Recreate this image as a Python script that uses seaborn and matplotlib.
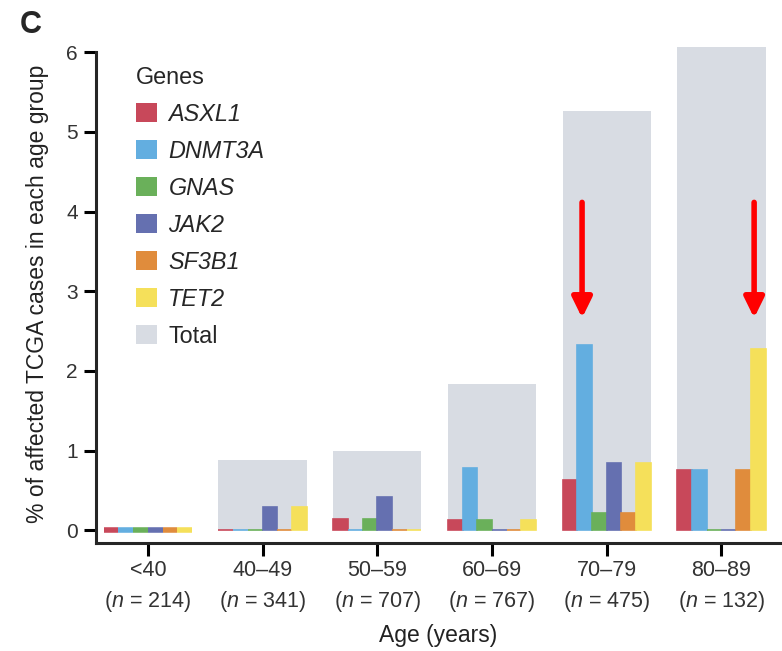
import pandas as pd
import matplotlib.pyplot as plt
import matplotlib.patheffects as pe
from matplotlib.patches import Patch
import seaborn as sns

# data (% of affected TCGA cases per age group)
ages = ["<40", "40–49", "50–59", "60–69", "70–79", "80–89"]
n_cases = [214, 341, 707, 767, 475, 132]
genes = ["ASXL1", "DNMT3A", "GNAS", "JAK2", "SF3B1", "TET2"]
asxl1 = [0, 0, 0.14, 0.13, 0.63, 0.76]
dnmt3a = [0, 0, 0, 0.78, 2.32, 0.76]
gnas = [0, 0, 0.14, 0.13, 0.21, 0]
jak2 = [0, 0.29, 0.42, 0, 0.84, 0]
sf3b1 = [0, 0, 0, 0, 0.21, 0.76]
tet2 = [0, 0.29, 0, 0.13, 0.84, 2.27]
total = [0, 0.88, 0.99, 1.83, 5.26, 6.06]

gene_colors = ["#c8485a", "#63aee0", "#6ab05a", "#6570b0", "#e08c3c", "#f5e05a"]
total_color = "#d8dce3"

df = pd.DataFrame({"age": ages, "ASXL1": asxl1, "DNMT3A": dnmt3a, "GNAS": gnas,
                   "JAK2": jak2, "SF3B1": sf3b1, "TET2": tet2})
long = df.melt(id_vars="age", var_name="gene", value_name="pct")
tot = pd.DataFrame({"age": ages, "pct": total})

sns.set_theme(style="ticks")
plt.rcParams["font.family"] = ["Liberation Sans", "DejaVu Sans"]
plt.rcParams["mathtext.fontset"] = "custom"
plt.rcParams["mathtext.it"] = "Liberation Sans:italic"
plt.rcParams["mathtext.rm"] = "Liberation Sans"

fig = plt.figure(figsize=(7.82, 6.51), dpi=100)
ax = fig.add_axes([0.1228, 0.166, 0.875, 0.766])

BAR_W = 0.77
sns.barplot(data=tot, x="age", y="pct", order=ages, color=total_color,
            width=BAR_W, saturation=1, errorbar=None, linewidth=0, ax=ax)
sns.barplot(data=long, x="age", y="pct", hue="gene", order=ages, hue_order=genes,
            palette=gene_colors, width=BAR_W, gap=0, saturation=1, errorbar=None,
            linewidth=1.2, legend=False, ax=ax)

# colour the bar edges like the faces so zero values show as thin lines
for cont in ax.containers[1:]:
    for p in cont:
        p.set_edgecolor(p.get_facecolor())
        if p.get_x() < 0.5:
            p.set_linewidth(4)

ax.set_xlim(-0.452, 5.513)
ax.set_ylim(-0.16, 6.1)
ax.set_yticks(range(7))
ax.spines["left"].set_bounds(-0.16, 6)
sns.despine(ax=ax)
for s in ("left", "bottom"):
    ax.spines[s].set_linewidth(2.2)
ax.tick_params(axis="both", width=2.2, length=9, colors="black",
               labelcolor="#333333")
ax.tick_params(axis="y", labelsize=15, pad=4)

ax.set_xticks(range(len(ages)))
ax.set_xticklabels([f"{a}\n($\\it{{n}}$ = {n})" for a, n in zip(ages, n_cases)],
                   fontsize=15.5, linespacing=1.45)
ax.set_xlabel("Age (years)", fontsize=16.5, color="#222222", labelpad=7)
ax.set_ylabel("% of affected TCGA cases in each age group", fontsize=16.5,
              color="#222222", labelpad=12.5)

# red arrows
for xa in (4 - 0.215, 5 + 0.285):
    ax.annotate("", xy=(xa, 2.63), xytext=(xa, 4.15),
                arrowprops=dict(arrowstyle="-|>,head_width=0.27,head_length=0.55",
                                color="#ff0000", lw=4, mutation_scale=22,
                                path_effects=[pe.SimplePatchShadow(offset=(1.5, -1.5), alpha=0.25),
                                              pe.Normal()]))

handles = [Patch(facecolor=c, edgecolor="none") for c in gene_colors]
handles.append(Patch(facecolor=total_color, edgecolor="none"))
leg = ax.legend(handles, genes + ["Total"], title="Genes", loc="upper left",
                bbox_to_anchor=(0.058, 0.957), frameon=False, fontsize=16.8,
                title_fontsize=16.8, handlelength=0.9, handleheight=0.9,
                handletextpad=0.5, labelspacing=0.6, alignment="left",
                borderpad=0, borderaxespad=0)
for t in leg.get_texts()[:-1]:
    t.set_fontstyle("italic")

fig.text(0.025, 0.985, "C", fontsize=22, fontweight="bold", va="top", ha="left")

fig.savefig("out.png", dpi=100)
